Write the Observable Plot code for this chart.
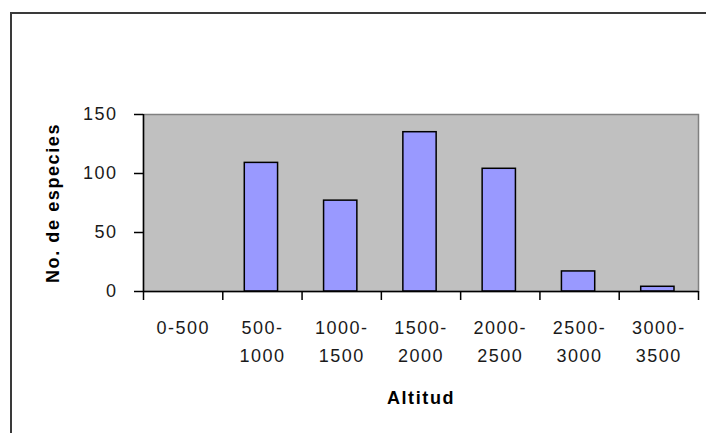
<!DOCTYPE html>
<html>
<head>
<meta charset="utf-8">
<script src="https://cdn.jsdelivr.net/npm/d3@7"></script>
<script src="https://cdn.jsdelivr.net/npm/@observablehq/plot@0.6"></script>
<style>
  html, body { margin: 0; padding: 0; background: #fff; }
  #wrap { position: relative; width: 706px; height: 433px; overflow: hidden; }
  #frame { position: absolute; left: 10px; top: 12px; width: 710px; height: 440px;
           border-left: 2px solid #3a3a3a; border-top: 2px solid #3a3a3a; pointer-events: none; }
  #chart { position: absolute; left: 0; top: 0; }
  svg { font-family: "Liberation Sans", Arial, sans-serif; }
  g[aria-label="x-axis tick label"] text, g[aria-label="y-axis tick label"] text { letter-spacing: 1.5px; }
  g[aria-label="x-axis label"] text, g[aria-label="y-axis label"] text { letter-spacing: 1.6px; }
</style>
</head>
<body>
<div id="wrap"><div id="chart"></div><div id="frame"></div></div>
<script>
// Altitude bins (m) and number of species
const binStart = [0, 500, 1000, 1500, 2000, 2500, 3000];
const binEnd   = [500, 1000, 1500, 2000, 2500, 3000, 3500];
const binLabels = ["0-500", "500-\n1000", "1000-\n1500", "1500-\n2000", "2000-\n2500", "2500-\n3000", "3000-\n3500"];
const species = [0, 109, 77, 135, 104, 17, 4];
const yTicks = [0, 50, 100, 150];
const xBoundaries = [0, 500, 1000, 1500, 2000, 2500, 3000, 3500];

const data = binStart.map((s, i) => ({start: s, end: binEnd[i], mid: (s + binEnd[i]) / 2, label: binLabels[i], n: species[i]}));
const labelByMid = new Map(data.map(d => [d.mid, d.label]));

const chart = Plot.plot({
  width: 706,
  height: 433,
  marginLeft: 143,
  marginRight: 8,
  marginTop: 114,
  marginBottom: 142,
  style: {fontFamily: '"Liberation Sans", Arial, sans-serif', background: "transparent"},
  x: {type: "linear", domain: [0, 3500]},
  y: {domain: [0, 150]},
  marks: [
    Plot.frame({fill: "#c0c0c0", stroke: "#808080", strokeWidth: 1.5}),
    Plot.rectY(data.filter(d => d.n > 0), {x1: "start", x2: "end", y: "n", insetLeft: 22, insetRight: 24,
      fill: "#9999ff", stroke: "#000", strokeWidth: 1.5}),
    Plot.ruleY([0], {stroke: "#000", strokeWidth: 1.5}),
    Plot.ruleX([0], {stroke: "#000", strokeWidth: 1.5}),
    Plot.axisY({ticks: yTicks, tickSize: 9, tickPadding: 17, tickFormat: d3.format("d"),
      fontSize: 18, fill: "#1a1a1a", stroke: "#000", strokeWidth: 1.5,
      label: "No. de especies", labelAnchor: "center", labelArrow: "none", labelOffset: 97}),
    Plot.axisX({ticks: xBoundaries, tickSize: 9, tickFormat: () => "", stroke: "#000", strokeWidth: 1.5, label: null}),
    Plot.axisX({ticks: data.map(d => d.mid), tickSize: 0, tickPadding: 23, tickFormat: d => labelByMid.get(d),
      fontSize: 18, fill: "#1a1a1a", lineHeight: 1.55,
      label: "Altitud", labelAnchor: "center", labelArrow: "none", labelOffset: 112})
  ]
});
// bold axis titles
chart.querySelectorAll('g[aria-label="x-axis label"], g[aria-label="y-axis label"]').forEach(g => {
  g.setAttribute("font-weight", "bold");
  g.setAttribute("font-size", "18");
  g.setAttribute("fill", "#000");
});
document.getElementById("chart").appendChild(chart);
</script>
</body>
</html>
